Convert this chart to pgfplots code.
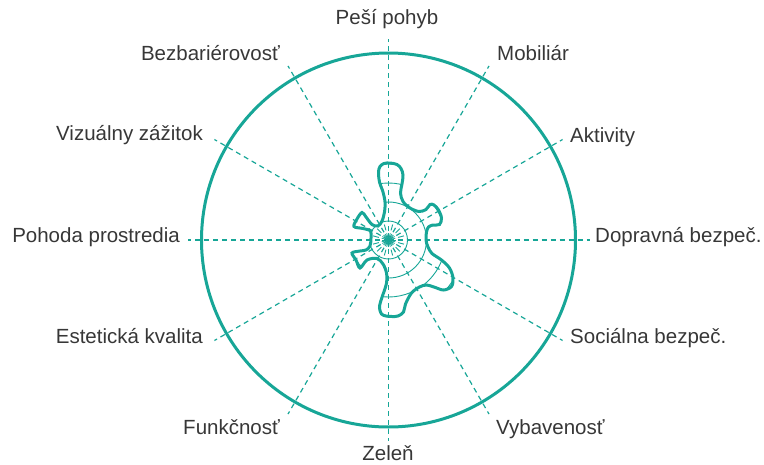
\documentclass[border=0pt]{standalone}
\usepackage{fontspec}
\setmainfont{Liberation Sans}
\usepackage{pgfplots}
\usepackage{pgfplotstable}
\pgfplotsset{compat=1.18}
\usetikzlibrary{intersections}

\definecolor{tl}{RGB}{23,166,151}
\definecolor{txt}{RGB}{55,55,55}

% outline of the shape, pixel coordinates (y down)
\pgfplotstableread{
x y
390 163
397 164.5
401 168.5
403 175
402 184
400.5 193
403 201.5
410 208
419 211.5
426 209.5
430 204.5
434 205
438.5 210
441.5 218
439.5 224.5
433 225
428.5 227
426.5 232
426 240
428 247
432 253.5
441.5 260
449.5 268
453 278
451.5 286.5
443.5 290
434 287
426.5 285
419.5 287
411.5 293
405.5 304
403.5 312
398 316
392 316.5
386 316
381.5 314
379.5 308
380.5 302
383.5 293
386.5 283
386.5 273
383 264
377 258.5
367 260
360 268
356 260
352 253
360 251
366 250
370 246
371 238
370.5 231
363 228.5
354 226.5
357 219
362 212.5
366 217
372 224.5
378 226
382 221
384.5 212
385 202
383 192
379.5 182
378.5 172
380 166.5
384 163.5
}\shapedata

\makeatletter
\newcommand\clipshape{%
  \expandafter\pgfsyssoftpath@setcurrentpath\csname tikz@intersect@path@name@shape\endcsname
  \pgfusepath{clip}}
\makeatother

\newcommand\lbl{\fontsize{20.5}{24}\selectfont}

\begin{document}
\begin{tikzpicture}
\begin{axis}[width=764pt,height=464pt,scale only axis,
  xmin=0,xmax=764,ymin=0,ymax=464,y dir=reverse,hide axis,clip=false]

% spokes
\pgfplotsextra{
  \foreach \a in {0,30,...,330}{
    \draw[tl,line width=1.2pt,dash pattern=on 5pt off 4pt]
      (axis cs:388.5,240) -- ++(\a:201pt);
  }
}
% outer circle
\draw[tl,line width=3pt] (axis cs:388.5,240) circle[radius=187pt];

% shape
\addplot[tl,line width=3pt,smooth cycle,tension=0.55,name path=shape] table[x=x,y=y] {\shapedata};

% inner grid, only inside the shape
\pgfplotsextra{
  \begin{scope}
    \clipshape
    \foreach \r in {19,38,57,76}{
      \draw[tl,line width=0.9pt] (axis cs:388.5,240) circle[radius=\r pt];
    }
  \end{scope}
  \foreach \a in {15,45,...,345}{
    \draw[tl,line width=0.9pt] (axis cs:388.5,240) ++(\a:10pt) -- ++(\a:6pt);
  }
  \foreach \a in {0,15,...,345}{
    \draw[tl,line width=0.8pt] (axis cs:388.5,240) ++(\a:2.5pt) -- ++(\a:4.5pt);
  }
}

% category labels
\node[txt,anchor=mid,inner sep=0] at (axis cs:387,22) {\lbl Peší pohyb};
\node[txt,anchor=mid west,inner sep=0] at (axis cs:497,58) {\lbl Mobiliár};
\node[txt,anchor=mid west,inner sep=0] at (axis cs:570,140) {\lbl Aktivity};
\node[txt,anchor=mid west,inner sep=0] at (axis cs:595,240) {\lbl Dopravná bezpeč.};
\node[txt,anchor=mid west,inner sep=0] at (axis cs:570,341) {\lbl Sociálna bezpeč.};
\node[txt,anchor=mid west,inner sep=0] at (axis cs:496,432) {\lbl Vybavenosť};
\node[txt,anchor=mid,inner sep=0] at (axis cs:388,458) {\lbl Zeleň};
\node[txt,anchor=mid east,inner sep=0] at (axis cs:280,432) {\lbl Funkčnosť};
\node[txt,anchor=mid east,inner sep=0] at (axis cs:203,341) {\lbl Estetická kvalita};
\node[txt,anchor=mid east,inner sep=0] at (axis cs:180,240) {\lbl Pohoda prostredia};
\node[txt,anchor=mid east,inner sep=0] at (axis cs:203,138) {\lbl Vizuálny zážitok};
\node[txt,anchor=mid east,inner sep=0] at (axis cs:280,58) {\lbl Bezbariérovosť};

\coordinate (BL) at (axis cs:0,464);
\coordinate (TR) at (axis cs:764,0);
\end{axis}
\pgfresetboundingbox
\path (BL) rectangle (TR);
\end{tikzpicture}
\end{document}
